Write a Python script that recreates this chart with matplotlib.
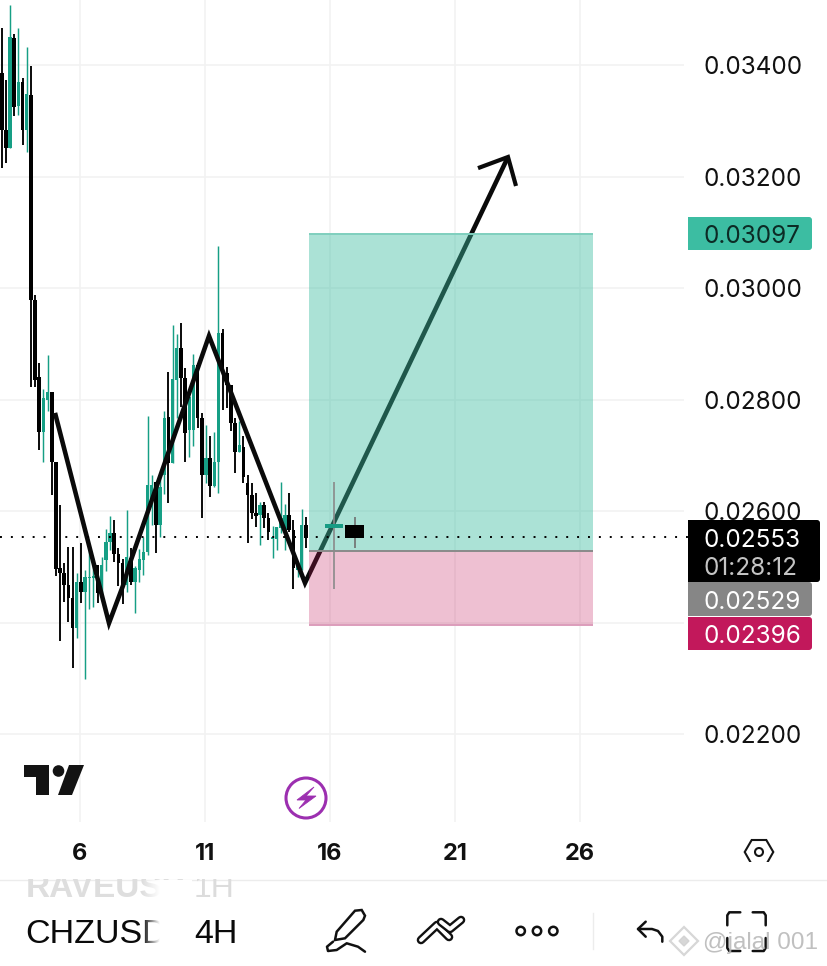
import numpy as np
import matplotlib
matplotlib.use('Agg')
import matplotlib.pyplot as plt
from matplotlib.patches import Rectangle, Circle, Polygon, FancyBboxPatch

W, H = 828, 966

# 4H candles, oldest first
first_day = 2.87
high = [.03466,.03373,.03508,.03456,.03466,.03377,.03432,.03398,.02988,.02866,
        .02819,.02880,.02814,.02688,.02611,.02507,.02535,.02535,.02489,.02543,
        .02494,.02535,.02516,.02503,.02518,.02568,.02591,.02584,.02534,.02514,
        .02602,.02534,.02501,.02532,.02553,.02770,.02665,.02652,.02666,.02779,
        .02849,.02934,.02918,.02937,.02857,.02808,.02882,.02866,.02776,.02754,
        .02735,.02742,.03075,.02927,.02858,.02826,.02767,.02762,.02735,.02665,
        .02650,.02632,.02616,.02616,.02596,.02573,.02571,.02652,.02613,.02632,
        .02584,.02509,.02604,.02589]
low = [.03215,.03224,.03251,.03309,.03310,.03257,.03244,.02822,.02822,.02709,
       .02688,.02779,.02629,.02483,.02367,.02437,.02401,.02318,.02372,.02435,
       .02299,.02424,.02428,.02435,.02446,.02492,.02530,.02509,.02466,.02433,
       .02455,.02467,.02417,.02473,.02485,.02521,.02575,.02525,.02553,.02631,
       .02614,.02686,.02767,.02787,.02688,.02697,.02717,.02749,.02588,.02650,
       .02625,.02643,.02632,.02781,.02785,.02744,.02668,.02706,.02650,.02543,
       .02586,.02571,.02539,.02570,.02548,.02516,.02530,.02561,.02530,.02562,
       .02460,.02482,.02494,.02534]
open_ = [.03386,.03283,.03251,.03448,.03327,.03370,.03283,.03346,.02979,.02840,
         .02742,.02799,.02814,.02688,.02498,.02489,.02467,.02444,.02390,.02473,
         .02455,.02480,.02480,.02503,.02455,.02512,.02544,.02561,.02523,.02507,
         .02467,.02516,.02473,.02494,.02512,.02527,.02614,.02652,.02575,.02665,
         .02769,.02686,.02835,.02892,.02839,.02745,.02745,.02862,.02767,.02665,
         .02695,.02645,.02688,.02919,.02848,.02826,.02758,.02706,.02715,.02650,
         .02629,.02596,.02593,.02611,.02588,.02550,.02550,.02570,.02566,.02593,
         .02566,.02494,.02494,.02575]
close = [.03283,.03251,.03450,.03325,.03370,.03283,.03348,.02979,.02835,.02742,
         .02803,.02814,.02688,.02496,.02489,.02467,.02444,.02390,.02473,.02455,
         .02482,.02482,.02483,.02453,.02503,.02544,.02561,.02523,.02507,.02467,
         .02518,.02473,.02498,.02514,.02527,.02647,.02647,.02575,.02643,.02767,
         .02686,.02837,.02892,.02839,.02740,.02805,.02862,.02767,.02665,.02695,
         .02645,.02688,.02919,.02857,.02826,.02758,.02706,.02718,.02661,.02629,
         .02596,.02591,.02611,.02588,.02562,.02553,.02571,.02588,.02593,.02566,
         .02498,.02509,.02575,.02552]

# the two wide candles right of the pattern
wide_day = [16.16, 17.0]
wide_high = [.02652, .02589]
wide_low = [.02460, .02534]
wide_open = [.02569, .02575]
wide_close = [.02577, .02552]
wide_color = ['#169c84', '#000000']
wide_wick = ['#8a8a8a', '#6f6f6f']

# hand drawn zigzag and arrow
zig_day = [5.0, 7.16, 7.72, 8.0, 11.16, 15.0, 23.12]
zig_price = [.02776, .02399, .02466, .02507, .02914, .02471, .03235]
head_day = [21.92, 23.12, 23.44]
head_price = [.03215, .03235, .03183]

# long position tool
pos_start, pos_end = 15.16, 26.52
target, entry, stop = .03097, .02529, .02396
last_price = .02553
countdown = '01:28:12'

grid_prices = [.034, .032, .030, .028, .026, .024, .022]
price_labels = [.034, .032, .030, .028, .026, .022]
day_ticks = [6, 11, 16, 21, 26]

# axis ranges that put the ticks where the screenshot has them
x0, x1 = 2.8, 35.92
y_top, y_bot = .035166, .017839

def py(p):
    return (y_top - p) / (y_top - y_bot) * H

def px(d):
    return (d - x0) / (x1 - x0) * W

fig = plt.figure(figsize=(W / 100, H / 100), dpi=100, facecolor='white')
ax = fig.add_axes([0, 0, 1, 1])
ax.set_xlim(x0, x1)
ax.set_ylim(y_bot, y_top)
ax.axis('off')

# grid
ax.hlines(grid_prices, x0, x0 + 684 / 25, color='#f2f2f2', lw=1.2, zorder=1)
ax.vlines(day_ticks, y_top - 822 / H * (y_top - y_bot), y_top, color='#f2f2f2', lw=1.2, zorder=1)

# candles
days = first_day + np.arange(len(high)) / 6
high, low, open_, close = map(np.array, (high, low, open_, close))
up = close >= open_
green = '#169f85'
ax.vlines(days[up], low[up], high[up], color=green, lw=1.05, zorder=2)
ax.bar(days[up], (close - open_)[up], bottom=open_[up], width=0.13, color=green, lw=0, zorder=2)
ax.vlines(days[~up], low[~up], high[~up], color='#0a0a0a', lw=1.4, zorder=3)
ax.bar(days[~up], (open_ - close)[~up], bottom=close[~up], width=0.15, color='#000000', lw=0, zorder=3)

# zigzag sits under the translucent boxes
ax.plot(zig_day, zig_price, color='#0a0a0a', lw=3.3, solid_joinstyle='miter', solid_capstyle='butt', zorder=4)
ax.plot(head_day, head_price, color='#0a0a0a', lw=3.0, solid_joinstyle='miter', solid_capstyle='butt', zorder=4)

# position boxes
ax.add_patch(Rectangle((pos_start, entry), pos_end - pos_start, target - entry,
                       facecolor='#3cbda2', alpha=0.43, lw=0, zorder=5))
ax.add_patch(Rectangle((pos_start, stop), pos_end - pos_start, entry - stop,
                       facecolor='#c2185b', alpha=0.27, lw=0, zorder=5))
ax.hlines(target, pos_start, pos_end, color='#7fcfbe', lw=1.4, zorder=6)
ax.hlines(entry, pos_start, pos_end, color='#8a8a8a', lw=1.4, zorder=6)
ax.hlines(stop, pos_start, pos_end, color='#dc9dbb', lw=1.4, zorder=6)

# wide candles on top
ax.vlines(wide_day, wide_low, wide_high, color=wide_wick, lw=1.2, zorder=7)
ax.bar(wide_day, np.abs(np.array(wide_close) - np.array(wide_open)),
       bottom=np.minimum(wide_close, wide_open), width=[0.72, 0.76], color=wide_color, lw=0, zorder=8)

# last price dotted line
ax.hlines(last_price, x0, x0 + 688 / 25, color='#000000', lw=1.4, linestyles=[(0, (1, 4.6))], zorder=9)

# pixel layer for the app interface
ui = fig.add_axes([0, 0, 1, 1], facecolor='none')
ui.set_xlim(0, W)
ui.set_ylim(H, 0)
ui.axis('off')

ff = ['Inter', 'DejaVu Sans']
for p in price_labels:
    ui.text(704, py(p), f'{p:.5f}', family=ff, fontsize=17.5, color='#111111', va='center_baseline', ha='left', zorder=2)

for d in day_ticks:
    ui.text(px(d), 853.5, str(d), family=ff, fontsize=17, weight='bold', color='#111111', va='center', ha='center')


def tag(y0, y1, color, right=812):
    ui.add_patch(FancyBboxPatch((700, y0 + 3), right - 703, y1 - y0 - 6, boxstyle='round,pad=3',
                                facecolor=color, lw=0, zorder=3))
    ui.add_patch(Rectangle((688, y0), 20, y1 - y0, facecolor=color, lw=0, zorder=3))


tag(217, 250, '#3cbda2')
tag(582, 616, '#868686')
tag(617, 650, '#c2185b')
tag(520, 582, '#000000', right=820)
ui.text(704, 234, f'{target:.5f}', family=ff, fontsize=17.5, color='#0c2b25', va='center_baseline', zorder=4)
ui.text(704, 538, f'{last_price:.5f}', family=ff, fontsize=17.5, color='white', va='center_baseline', zorder=4)
ui.text(704, 566, countdown, family=ff, fontsize=17.5, color='#c4c4c4', va='center_baseline', zorder=4)
ui.text(704, 600, f'{entry:.5f}', family=ff, fontsize=17.5, color='white', va='center_baseline', zorder=4)
ui.text(704, 634, f'{stop:.5f}', family=ff, fontsize=17.5, color='white', va='center_baseline', zorder=4)

# tradingview logo
ui.add_patch(Polygon([(24, 765), (49, 765), (49, 795), (36, 795), (36, 777), (24, 777)], facecolor='#131313', lw=0))
ui.add_patch(Circle((58.5, 771), 5.8, facecolor='#131313', lw=0))
ui.add_patch(Polygon([(69, 765), (84, 765), (72, 795), (58, 795)], facecolor='#131313', lw=0))

# lightning badge
ui.add_patch(Circle((306, 798), 20, facecolor='white', edgecolor='#9c2fb0', lw=2.2))
ui.add_patch(Polygon([(314, 787), (297, 800), (306, 800), (299, 808.5), (316, 796), (306, 796)],
                     facecolor='#9c2fb0', edgecolor='#9c2fb0', lw=0.6))

# settings hexagon
ui.add_patch(Polygon([(744.7, 852), (751.7, 840), (766.3, 840), (773.3, 852), (766.3, 864.3), (751.7, 864.3)],
                     facecolor='none', edgecolor='#151515', lw=1.5))
ui.add_patch(Circle((759, 852), 4, facecolor='none', edgecolor='#151515', lw=1.5))

# bottom toolbar
ui.plot([0, W], [879.5, 879.5], color='#ececec', lw=1, zorder=1)
ui.plot([593, 593], [913, 949], color='#ececec', lw=1)
ui.text(26, 897, 'RAVEUSD', family='Liberation Sans', fontsize=24, weight='bold', color='#dedede', va='baseline', zorder=1)
ui.text(194, 897, '1H', family='Liberation Sans', fontsize=23, color='#dcdcdc', va='baseline', zorder=1)
ui.add_patch(Rectangle((0, 862), W, 17, facecolor='white', lw=0, zorder=1.5))
ui.text(25, 943, 'CHZUSD', family='Liberation Sans', fontsize=24.5, color='#0a0a0a', va='baseline', zorder=1)
ui.text(194, 943, '4H', family='Liberation Sans', fontsize=24.5, color='#0a0a0a', va='baseline', zorder=1)

# fade the clipped symbol names
fade = np.ones((1, 32, 4))
fade[0, :, 3] = np.linspace(0, 1, 32)
ui.imshow(fade, extent=(142, 160, 955, 880), aspect='auto', zorder=1.6)
ui.add_patch(Rectangle((160, 880), 32, 75, facecolor='white', lw=0, zorder=1.6))
ui.set_xlim(0, W)
ui.set_ylim(H, 0)

ik = dict(color='#111111', lw=1.8, solid_capstyle='round', solid_joinstyle='round', zorder=4)
# pen
ui.add_patch(Polygon([(336.7, 931.7), (355, 910.7), (361.7, 910), (365, 915.7), (363.3, 920), (345, 938.3), (335, 940)],
                     facecolor='white', edgecolor='#111111', lw=1.8, zorder=4))
ui.plot([333, 327, 328, 336.7, 346.7, 358, 365], [941.7, 946.7, 951, 950, 943.3, 946.7, 951.7], **ik)

# drawing tools icon, thick stroke with a white core
for xs, ys in [([421, 437, 449], [940, 925, 937]), ([441, 450, 461], [922, 929, 920])]:
    ui.plot(xs, ys, color='#111111', lw=6.2, solid_capstyle='round', solid_joinstyle='round', zorder=4)
    ui.plot(xs, ys, color='white', lw=2.8, solid_capstyle='round', solid_joinstyle='round', zorder=4)

# three dots
for cx in [520.7, 537, 553.3]:
    ui.add_patch(Circle((cx, 931), 4.2, facecolor='none', edgecolor='#111111', lw=1.8, zorder=4))

# undo
ui.plot([662.3, 662.3, 658, 652, 638], [941.7, 936.7, 931, 929, 929], **ik)
ui.plot([645.7, 638, 645.7], [921.7, 929, 936.7], **ik)

# fullscreen corners
l, r, t, b = 727.3, 765.7, 912.3, 951
ui.plot([l, l, l + 2, l + 13], [t + 13, t + 3, t, t], **ik)
ui.plot([r - 13, r - 2, r, r], [t, t, t + 3, t + 13], **ik)
ui.plot([l, l, l + 2, l + 13], [b - 13, b - 3, b, b], **ik)
ui.plot([r - 13, r - 2, r, r], [b, b, b - 3, b - 13], **ik)

# binance watermark
wm = '#d0d0d0'
ui.add_patch(Polygon([(684, 927), (698, 941), (684, 955), (670, 941)], facecolor='white', edgecolor=wm, lw=1.6, alpha=0.85, zorder=5))
ui.add_patch(Polygon([(684, 936), (689, 941), (684, 946), (679, 941)], facecolor=wm, edgecolor=wm, lw=1, alpha=0.85, zorder=5))
ui.text(703, 949, '@jalal 001', family='Liberation Sans', fontsize=17.5, color='#b5b5b5', alpha=0.85, va='baseline', zorder=5)

fig.savefig('out.png', dpi=100)
